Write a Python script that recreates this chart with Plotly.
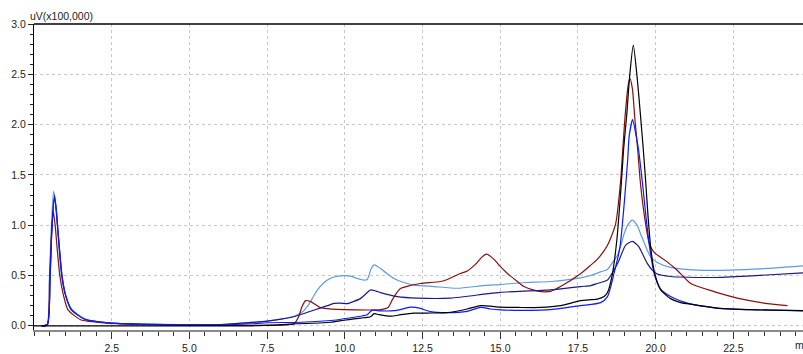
import plotly.graph_objects as go

# Retention time (min) / signal (uV x100,000) for each chromatogram
black_t = [0.0, 0.4, 2.0, 5.0, 7.0, 7.4, 8.0, 8.47, 9.0, 9.54, 9.97, 10.3, 10.6, 10.83, 10.94, 11.1,
           11.47, 11.8, 12.22, 12.8, 13.3, 13.94, 14.37, 14.69, 15.0, 15.6, 16.3, 16.94, 17.59,
           18.12, 18.34, 18.45, 18.6, 18.75, 18.88, 18.97, 19.07, 19.16, 19.28, 19.41, 19.52,
           19.6, 19.68, 19.75, 19.84, 19.97, 20.16, 20.48, 20.8, 21.23, 21.98, 23.06, 24.74]
black_v = [0.0, 0.0, 0.0, 0.0, 0.0, 0.003, 0.012, 0.02, 0.025, 0.035, 0.055, 0.068, 0.08, 0.09, 0.12, 0.11,
           0.095, 0.11, 0.125, 0.127, 0.13, 0.167, 0.2, 0.195, 0.185, 0.182, 0.182, 0.2, 0.25,
           0.265, 0.29, 0.33, 0.5, 0.85, 1.35, 1.76, 2.1, 2.47, 2.79, 2.45, 2.06,
           1.76, 1.43, 1.11, 0.78, 0.52, 0.357, 0.27, 0.23, 0.21, 0.176, 0.16, 0.15]

red_t = [0.25, 0.43, 0.5, 0.56, 0.62, 0.68, 0.75, 0.83, 0.95, 1.09, 1.5, 2.4, 3.5, 5.0, 7.0, 8.36,
         8.52, 8.62, 8.74, 8.9, 9.22, 9.6, 9.97, 10.72, 11.15, 11.4, 11.53, 11.63, 11.79, 12.1,
         12.44, 13.08, 13.3, 13.72, 13.94, 14.2, 14.4, 14.56, 14.8, 15.0, 15.23, 15.55, 15.76,
         16.08, 16.4, 16.62, 16.94, 17.59, 17.9, 18.12, 18.45, 18.71, 18.87, 18.93, 19.01, 19.11,
         19.17, 19.25, 19.33, 19.42, 19.5, 19.63, 19.8, 19.95, 20.35, 20.7, 21.13, 21.88, 22.63,
         23.49, 24.24]
red_v = [0.0, 0.01, 0.45, 0.9, 1.14, 1.0, 0.75, 0.5, 0.3, 0.16, 0.06, 0.025, 0.012, 0.006, 0.005, 0.02,
         0.095, 0.19, 0.25, 0.24, 0.18, 0.165, 0.16, 0.157, 0.16, 0.185, 0.26, 0.31, 0.37, 0.4,
         0.42, 0.44, 0.46, 0.52, 0.545, 0.61, 0.68, 0.712, 0.66, 0.59, 0.52, 0.44, 0.39,
         0.355, 0.338, 0.342, 0.39, 0.52, 0.6, 0.66, 0.8, 1.01, 1.43, 1.7, 2.06, 2.38,
         2.46, 2.36, 2.06, 1.76, 1.45, 1.11, 0.81, 0.73, 0.64, 0.55, 0.42, 0.34, 0.275,
         0.225, 0.2]

blue_t = [0.25, 0.43, 0.52, 0.58, 0.66, 0.72, 0.77, 0.9, 1.02, 1.2, 1.63, 2.4, 3.5, 5.0, 6.0, 7.0,
          7.5, 8.58, 9.65, 10.2, 10.5, 10.72, 10.88, 11.15, 11.58, 11.9, 12.12, 12.4, 12.76, 13.3,
          13.94, 14.37, 14.69, 15.0, 16.3, 16.62, 17.59, 18.23, 18.45, 18.66, 18.85, 18.97, 19.05,
          19.1, 19.15, 19.26, 19.37, 19.45, 19.52, 19.6, 19.7, 19.82, 19.95, 20.15, 20.48, 21.02,
          21.98, 23.06, 24.74]
blue_v = [0.0, 0.01, 0.5, 1.0, 1.3, 1.15, 0.95, 0.5, 0.3, 0.16, 0.065, 0.028, 0.015, 0.01, 0.01, 0.02,
          0.03, 0.035, 0.055, 0.08, 0.095, 0.11, 0.155, 0.148, 0.15, 0.17, 0.185, 0.175, 0.14, 0.13,
          0.144, 0.183, 0.167, 0.158, 0.155, 0.16, 0.2, 0.23, 0.29, 0.52, 0.78, 1.15, 1.45,
          1.65, 1.89, 2.05, 1.89, 1.75, 1.57, 1.35, 1.05, 0.75, 0.52, 0.37, 0.29, 0.225,
          0.176, 0.16, 0.148]

lightblue_t = [0.25, 0.42, 0.5, 0.56, 0.63, 0.7, 0.75, 0.88, 1.0, 1.2, 1.63, 2.4, 3.5, 5.0, 6.0, 6.5,
               7.0, 7.5, 8.0, 8.36, 8.6, 8.79, 8.95, 9.12, 9.3, 9.44, 9.65, 9.87, 10.19, 10.4, 10.6,
               10.72, 10.85, 10.94, 11.05, 11.15, 11.35, 11.58, 11.9, 12.22, 12.87, 13.62, 14.48,
               15.0, 15.8, 16.62, 17.59, 17.91, 18.23, 18.45, 18.66, 18.77, 18.9, 18.98, 19.1, 19.25,
               19.4, 19.52, 19.73, 19.85, 20.05, 20.48, 20.8, 21.34, 22.41, 23.6, 24.74]
lightblue_v = [0.0, 0.01, 0.5, 1.0, 1.34, 1.2, 1.0, 0.5, 0.32, 0.17, 0.07, 0.03, 0.018, 0.01, 0.012, 0.02,
               0.033, 0.046, 0.07, 0.095, 0.13, 0.19, 0.27, 0.357, 0.42, 0.455, 0.485, 0.497, 0.494, 0.47, 0.455,
               0.46, 0.57, 0.605, 0.59, 0.57, 0.52, 0.47, 0.43, 0.405, 0.39, 0.373, 0.4,
               0.41, 0.43, 0.44, 0.477, 0.5, 0.536, 0.56, 0.65, 0.7, 0.82, 0.91, 1.0, 1.05,
               1.0, 0.91, 0.75, 0.68, 0.63, 0.58, 0.565, 0.553, 0.553, 0.57, 0.595]

navy_t = [0.25, 0.43, 0.52, 0.58, 0.66, 0.72, 0.77, 0.9, 1.02, 1.2, 1.63, 2.4, 3.5, 5.0, 6.0, 7.0,
          7.5, 8.0, 8.36, 8.9, 9.2, 9.44, 9.65, 9.85, 10.08, 10.29, 10.5, 10.61, 10.83, 11.0, 11.15,
          11.69, 12.33, 13.4, 14.48, 15.0, 16.62, 17.59, 17.91, 18.12, 18.45, 18.65, 18.82, 19.03,
          19.25, 19.45, 19.52, 19.73, 19.9, 20.05, 20.48, 20.8, 21.88, 22.95, 24.74]
navy_v = [0.0, 0.01, 0.5, 0.98, 1.27, 1.13, 0.94, 0.5, 0.3, 0.16, 0.065, 0.028, 0.015, 0.01, 0.012, 0.033,
          0.046, 0.068, 0.09, 0.144, 0.175, 0.2, 0.222, 0.225, 0.22, 0.242, 0.27, 0.298, 0.357, 0.345, 0.33,
          0.29, 0.275, 0.275, 0.314, 0.333, 0.357, 0.39, 0.4, 0.42, 0.455, 0.55, 0.65, 0.8,
          0.84, 0.79, 0.75, 0.62, 0.55, 0.515, 0.49, 0.485, 0.48, 0.494, 0.526]

x_tickvals = [2.5, 5.0, 7.5, 10.0, 12.5, 15.0, 17.5, 20.0, 22.5]
x_ticktext = ["2.5", "5.0", "7.5", "10.0", "12.5", "15.0", "17.5", "20.0", "22.5"]
y_tickvals = [0.0, 0.5, 1.0, 1.5, 2.0, 2.5, 3.0]
y_ticktext = ["0.0", "0.5", "1.0", "1.5", "2.0", "2.5", "3.0"]

series = [
    (lightblue_t, lightblue_v, "#5c9ae8"),
    (red_t, red_v, "#8b0d0d"),
    (navy_t, navy_v, "#1a1a85"),
    (blue_t, blue_v, "#0a1aff"),
    (black_t, black_v, "#000000"),
]

fig = go.Figure()
for t, v, c in series:
    fig.add_trace(go.Scatter(
        x=t, y=v, mode="lines",
        line=dict(color=c, width=1.2, shape="spline", smoothing=0.6),
        showlegend=False, hoverinfo="skip",
    ))

font = dict(family="Arial, Liberation Sans, sans-serif", size=10.5, color="#222222")
grid = dict(showgrid=True, gridcolor="#c8c8c8", gridwidth=1, griddash="3px,3px")

fig.update_layout(
    width=803, height=354,
    margin=dict(l=34, r=0, t=24, b=20),
    paper_bgcolor="white", plot_bgcolor="white",
    font=font,
    xaxis=dict(
        range=[0, 24.74], tickmode="array", tickvals=x_tickvals, ticktext=x_ticktext,
        ticks="outside", ticklen=7, tickcolor="#333333", tickwidth=1,
        minor=dict(tickmode="linear", tick0=0, dtick=0.5, ticklen=4,
                   tickcolor="#333333", showgrid=False),
        showline=True, linecolor="#8a8a8a", linewidth=2,
        zeroline=False, tickfont=font, **grid,
    ),
    yaxis=dict(
        range=[-0.042, 3.0], tickmode="array", tickvals=y_tickvals, ticktext=y_ticktext,
        ticks="outside", ticklen=5, tickcolor="#222222", tickwidth=1,
        minor=dict(tickmode="linear", tick0=0, dtick=0.1, ticklen=3,
                   tickcolor="#222222", showgrid=False),
        showline=True, linecolor="#000000", linewidth=1.3,
        zeroline=False, tickfont=font, **grid,
    ),
    shapes=[dict(type="line", xref="paper", yref="paper", x0=0, x1=1, y0=1, y1=1,
                 line=dict(color="#000000", width=1.6))],
    annotations=[
        dict(text="uV(x100,000)", xref="paper", yref="paper", x=-0.008, y=1.0,
             xanchor="left", yanchor="bottom", showarrow=False, font=font, yshift=0),
        dict(text="min", xref="paper", yref="paper", x=0.987, y=-0.048,
             xanchor="left", yanchor="middle", showarrow=False, font=font),
    ],
)

fig.write_html("out.html")
